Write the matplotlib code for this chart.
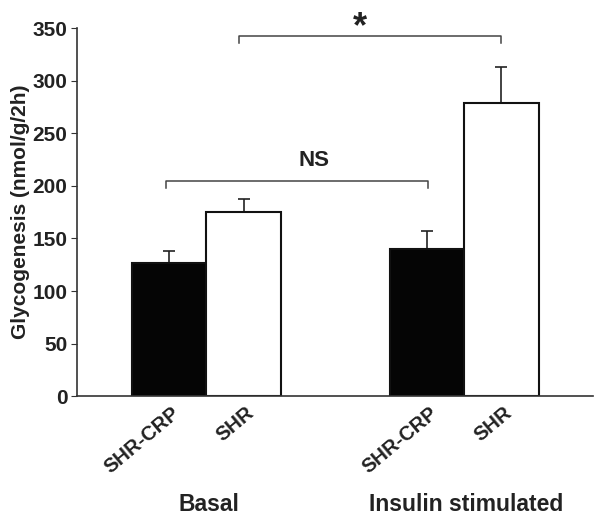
import numpy as np
import matplotlib
matplotlib.use("Agg")
import matplotlib.pyplot as plt
from matplotlib.transforms import ScaledTranslation

plt.rcParams['font.family'] = ['Liberation Sans', 'DejaVu Sans']
plt.rcParams['font.weight'] = 'bold'

# data
labels = ["SHR-CRP", "SHR", "SHR-CRP", "SHR"]
groups = ["Basal", "Insulin stimulated"]
means = [127, 175, 140, 279]
errs = [11, 13, 17, 34]
colors = ["#050505", "white", "#050505", "white"]
xpos = [0, 1, 3.46, 4.46]

fig = plt.figure(figsize=(6.02, 5.22), dpi=100)
ax = fig.add_axes([0.128, 0.241, 0.857, 0.705])

ax.bar(xpos, means, width=1.0, color=colors, edgecolor="#111111", linewidth=1.5, zorder=2)
ax.errorbar(xpos, means, yerr=[np.zeros(len(errs)), errs], fmt="none",
            ecolor="#222222", elinewidth=1.2, capsize=4, capthick=1.2, zorder=1)

ax.set_xlim(-1.235, 5.69)
ax.set_ylim(0, 350)
ax.set_yticks(np.arange(0, 351, 50))
ax.spines['top'].set_visible(False)
ax.spines['right'].set_visible(False)
for s in ['left', 'bottom']:
    ax.spines[s].set_color("#333333")
    ax.spines[s].set_linewidth(1.2)
ax.tick_params(axis='y', labelsize=15, length=4, pad=3, color="#333333", labelcolor="#222222")
ax.tick_params(axis='x', length=0, labelsize=14.5, labelcolor="#222222", pad=5)
ax.set_ylabel("Glycogenesis (nmol/g/2h)", fontsize=15, fontweight='bold', color="#222222", labelpad=2)

ax.set_xticks(xpos)
ax.set_xticklabels(labels, rotation=40, ha='right', rotation_mode='anchor')
off = ScaledTranslation(2 / 100, 0, fig.dpi_scale_trans)
for t in ax.get_xticklabels():
    t.set_transform(t.get_transform() + off)

# group labels
for i, g in enumerate(groups):
    cx = (xpos[2 * i] + xpos[2 * i + 1]) / 2
    ax.text(cx + 0.03, -103, g, ha='center', va='center', fontsize=16.5, fontweight='bold',
            color="#222222", clip_on=False)

# significance brackets
ax.plot([xpos[0] - 0.04] * 2 + [xpos[2] + 0.02] * 2, [198, 205, 205, 198], color="#444444", lw=1.1)
ax.plot([xpos[1] - 0.06] * 2 + [xpos[3]] * 2, [336, 343, 343, 336], color="#444444", lw=1.1)
ax.text(1.95, 224, "NS", ha='center', va='center', fontsize=16, fontweight='bold', color="#222222")
ax.text(2.56, 341, "*", ha='center', va='baseline', fontsize=26, fontweight='bold', color="#222222")

fig.savefig("out.png", dpi=100)
